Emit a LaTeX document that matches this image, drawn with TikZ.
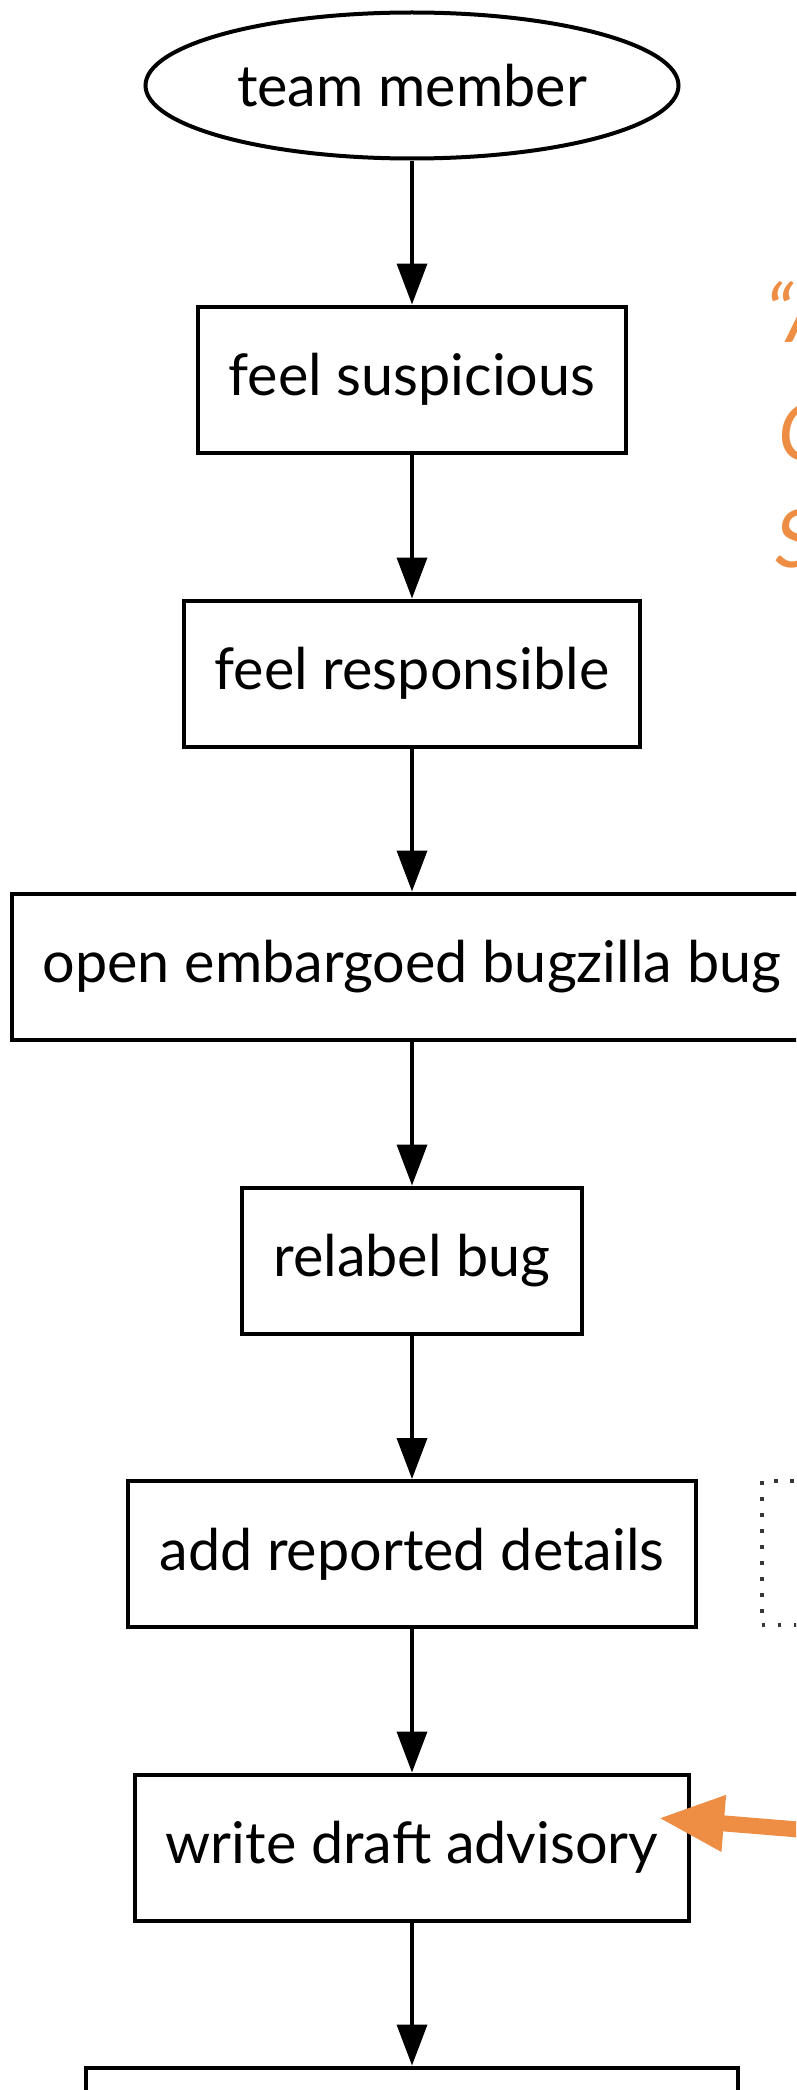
\documentclass[tikz,border=0pt]{standalone}
\usepackage{fontspec}
\setmainfont{Lato}
\usetikzlibrary{arrows.meta,shapes.geometric}
\definecolor{accent}{RGB}{237,142,68}
\definecolor{dotgray}{RGB}{55,55,55}
\begin{document}
\begin{tikzpicture}[x=1pt,y=-1pt,
  every node/.style={font=\fontsize{57.5}{69}\selectfont, inner sep=0pt},
  stepbox/.style={draw, line width=4pt, rectangle, minimum height=146pt, inner xsep=31pt},
  startnode/.style={draw, line width=4pt, ellipse, minimum width=533pt, minimum height=146pt},
  flow/.style={line width=3.6pt, -{Triangle[length=41pt,width=30pt]}},
  notebox/.style={draw=dotgray, line width=3.5pt, dash pattern=on 3.5pt off 12.5pt,
    rectangle, minimum width=400pt, minimum height=144pt},
  quotetext/.style={text=accent, anchor=base west, font=\fontsize{80}{112}\selectfont\itshape},
  pointer/.style={accent, line width=16pt, -{Triangle[length=66pt,width=52pt]}}
]
\useasboundingbox (0,0) rectangle (796,2090);
\clip (0,0) rectangle (796,2090);

% main flow
\node[startnode] (team) at (412,85.5) {team member};
\node[stepbox] (susp) at (412,379.5) {feel suspicious};
\node[stepbox] (resp) at (412,673.5) {feel responsible};
\node[stepbox] (openbug) at (412,966.5) {open embargoed bugzilla bug};
\node[stepbox] (relabel) at (412,1260.5) {relabel bug};
\node[stepbox] (addrep) at (412,1554) {add reported details};
\node[stepbox] (draftadv) at (412,1847.5) {write draft advisory};
\node[stepbox, minimum width=652pt] (nextbox) at (412,2140.5) {};

\draw[flow] (team) -- (susp);
\draw[flow] (susp) -- (resp);
\draw[flow] (resp) -- (openbug);
\draw[flow] (openbug) -- (relabel);
\draw[flow] (relabel) -- (addrep);
\draw[flow] (addrep) -- (draftadv);
\draw[flow] (draftadv) -- (nextbox);

% side note beside the details step
\node[notebox, anchor=west] (note) at (760,1553) {};
\node[anchor=base west] (notetext) at (795,1573) {s};

% quotation in the margin
\node[quotetext] (quoteA) at (765,342) {“A};
\node[quotetext] (quoteB) at (778,460) {C};
\node[quotetext] (quoteC) at (775,567) {S};

% highlight pointer onto the advisory step
\coordinate (advtip) at (658,1818);
\coordinate (advtail) at (1000,1846);
\draw[pointer] (advtail) -- (advtip);
\end{tikzpicture}
\end{document}
